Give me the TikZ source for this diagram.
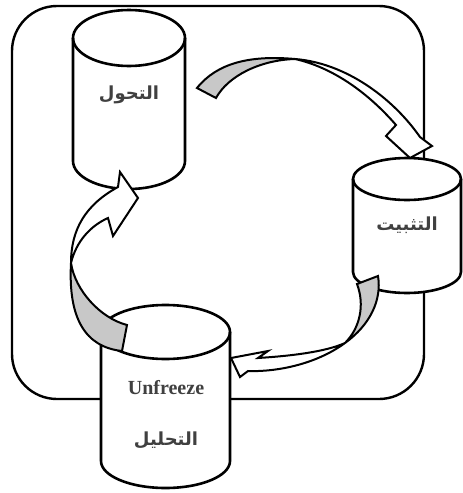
\documentclass[tikz,border=0pt]{standalone}
\usepackage{fontspec}
\setmainfont{Liberation Serif}
\newfontfamily\arabicfont[Script=Arabic]{DejaVu Sans}
\TeXXeTstate=1
\definecolor{txtgray}{HTML}{404040}
\definecolor{tailgray}{HTML}{C8C8C8}
\tikzset{
  frameline/.style={draw=black,line width=2.4pt,rounded corners=45pt},
  cylline/.style={draw=black,line width=2.6pt,line join=round},
  blockarrow/.style={draw=black,line width=2pt,line join=miter,fill=white},
  tailfill/.style={fill=tailgray},
  arab/.style={font=\arabicfont\bfseries\fontsize{18}{22}\selectfont,text=txtgray},
  latin/.style={font=\bfseries\fontsize{20}{24}\selectfont,text=txtgray}
}
% cx, top-centre y, bottom-centre y, rx, ry
\newcommand\drawcyl[5]{%
  \path[fill=white] (#1-#4,#2) -- (#1-#4,#3)
    .. controls (#1-#4,#3+0.5523*#5) and (#1-0.5523*#4,#3+#5) .. (#1,#3+#5)
    .. controls (#1+0.5523*#4,#3+#5) and (#1+#4,#3+0.5523*#5) .. (#1+#4,#3)
    -- (#1+#4,#2) -- cycle;
  \path[fill=white] (#1,#2) ellipse ({#4} and {#5});
  \draw[cylline] (#1-#4,#2) -- (#1-#4,#3)
    .. controls (#1-#4,#3+0.5523*#5) and (#1-0.5523*#4,#3+#5) .. (#1,#3+#5)
    .. controls (#1+0.5523*#4,#3+#5) and (#1+#4,#3+0.5523*#5) .. (#1+#4,#3)
    -- (#1+#4,#2);
  \draw[cylline] (#1,#2) ellipse ({#4} and {#5});
}
\begin{document}
\begin{tikzpicture}[x=1pt,y=-1pt]
\useasboundingbox (0,0) rectangle (463,493);
% frame
\draw[frameline] (12,6) rectangle (424,399);
% cylinders
\drawcyl{129}{38}{161}{56}{28}
\drawcyl{407}{179}{272}{54}{21}
\drawcyl{165.5}{332}{461}{64.5}{27}
% arrow 1: top -> right
\path[blockarrow,draw=none] (197,88) .. controls (217,63) and (250,55) .. (295,59)
  .. controls (345,63) and (392,97) .. (420,137) -- (432,146) -- (410,158) -- (386,136) -- (396,125)
  .. controls (370,95) and (335,68) .. (295,59)
  .. controls (260,60) and (228,76) .. (216,98) -- cycle;
\path[tailfill] (197,88) .. controls (217,63) and (250,55) .. (295,59)
  .. controls (260,60) and (228,76) .. (216,98) -- cycle;
\draw[blockarrow,fill=none] (197,88) .. controls (217,63) and (250,55) .. (295,59)
  .. controls (345,63) and (392,97) .. (420,137) -- (432,146) -- (410,158) -- (386,136) -- (396,125)
  .. controls (370,95) and (335,68) .. (295,59)
  .. controls (260,60) and (228,76) .. (216,98) -- cycle;
% arrow 2: right -> bottom
\path[blockarrow,draw=none] (378,276) .. controls (382,300) and (370,325) .. (345,343)
  .. controls (315,365) and (275,372) .. (248,371) -- (240,377) -- (231,358) -- (268,351) -- (258,358)
  .. controls (290,356) and (325,352) .. (345,343)
  .. controls (360,328) and (365,305) .. (357,284) -- cycle;
\path[tailfill] (378,276) .. controls (382,300) and (370,325) .. (345,343)
  .. controls (360,328) and (365,305) .. (357,284) -- cycle;
\draw[blockarrow,fill=none] (378,276) .. controls (382,300) and (370,325) .. (345,343)
  .. controls (315,365) and (275,372) .. (248,371) -- (240,377) -- (231,358) -- (268,351) -- (258,358)
  .. controls (290,356) and (325,352) .. (345,343)
  .. controls (360,328) and (365,305) .. (357,284) -- cycle;
% arrow 3: bottom -> top
\path[blockarrow,draw=none] (122,351) .. controls (85,347) and (68,318) .. (71,263)
  .. controls (71,230) and (85,205) .. (118,187) -- (120,172) -- (138,198) -- (113,236) -- (108,218)
  .. controls (90,226) and (76,242) .. (71,263)
  .. controls (75,290) and (100,318) .. (127,325) -- cycle;
\path[tailfill] (122,351) .. controls (85,347) and (68,318) .. (71,263)
  .. controls (75,290) and (100,318) .. (127,325) -- cycle;
\draw[blockarrow,fill=none] (122,351) .. controls (85,347) and (68,318) .. (71,263)
  .. controls (71,230) and (85,205) .. (118,187) -- (120,172) -- (138,198) -- (113,236) -- (108,218)
  .. controls (90,226) and (76,242) .. (71,263)
  .. controls (75,290) and (100,318) .. (127,325) -- cycle;
% texts
\node[arab] (tahawwul) at (129,95) {\beginR التحول\endR};
\node[arab] (tathbit) at (407,225) {\beginR التثبيت\endR};
\node[latin] (unfreeze) at (166,388) {Unfreeze};
\node[arab] (tahlil) at (166,440) {\beginR التحليل\endR};
\end{tikzpicture}
\end{document}
